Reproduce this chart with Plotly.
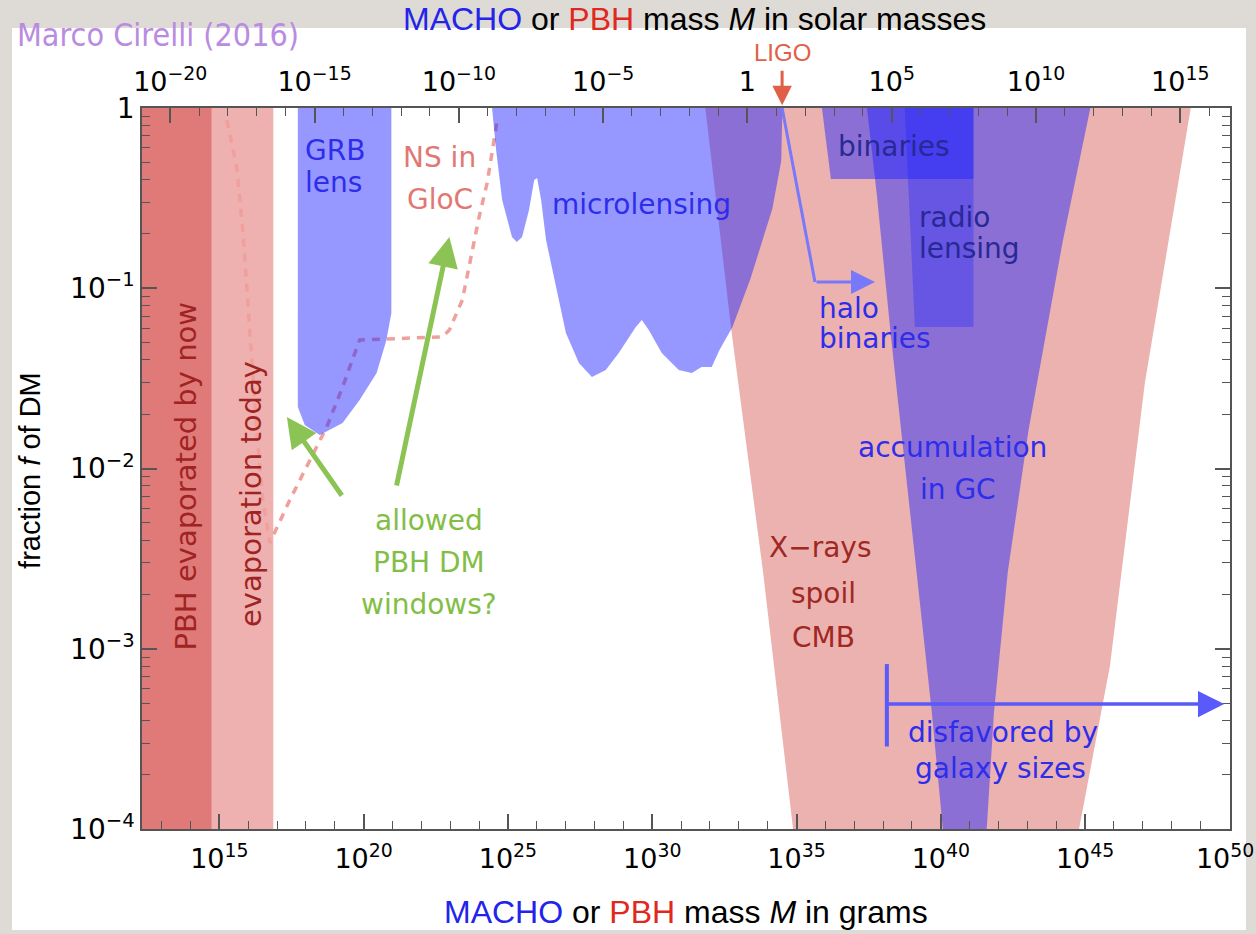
import plotly.graph_objects as go

# ---------------- data (log10 of mass in grams, log10 of f) ----------------
MSUN_LOG10_G = 33.2986
x_range_log = [12.32, 50.02]
y_range_log = [-4.0, 0.0]

bottom_tick_exp = [15, 20, 25, 30, 35, 40, 45, 50]
top_tick_exp = [-20, -15, -10, -5, 0, 5, 10, 15]
y_tick_exp = [-4, -3, -2, -1, 0]

evap_now_logM = [12.0, 14.74, 14.74, 12.0]
evap_now_logf = [-4.0, -4.0, 0.0, 0.0]

evap_today_logM = [14.74, 16.87, 16.87, 14.74]
evap_today_logf = [-4.0, -4.0, 0.0, 0.0]

grb_logM = [17.72, 17.72, 17.96, 18.48, 19.27, 19.86, 20.45, 20.79, 20.96, 20.96]
grb_logf = [0.0, -1.659, -1.759, -1.814, -1.748, -1.620, -1.470, -1.287, -1.137, 0.0]

ns_logM = [15.26, 15.60, 15.82, 15.99, 16.13, 16.30, 16.51, 16.75, 17.44, 18.13, 18.72,
           19.27, 19.86, 22.73, 22.97, 23.42, 23.76, 24.00, 24.28, 24.46, 24.63]
ns_logf = [-0.067, -0.326, -0.693, -1.065, -1.437, -1.803, -2.175, -2.413, -2.175, -1.953, -1.770,
           -1.548, -1.287, -1.270, -1.232, -1.065, -0.788, -0.605, -0.416, -0.233, -0.067]

micro_logM = [24.45, 24.59, 24.80, 25.14, 25.31, 25.49, 25.73, 25.91, 26.01, 26.15, 26.32,
              26.67, 27.01, 27.46, 27.91, 28.39, 28.84, 29.43, 29.64, 29.88, 30.33, 30.92,
              31.37, 31.71, 32.06, 32.33, 32.78, 33.40, 34.16, 34.47, 34.51]
micro_logf = [0.0, -0.233, -0.510, -0.716, -0.743, -0.716, -0.566, -0.399, -0.388, -0.510, -0.732,
              -0.993, -1.248, -1.415, -1.492, -1.454, -1.359, -1.215, -1.176, -1.232, -1.359, -1.454,
              -1.470, -1.437, -1.437, -1.343, -1.215, -0.949, -0.560, -0.294, 0.0]

xray_logM = [31.84, 32.74, 33.84, 34.88, 44.79, 45.86, 47.07, 48.66]
xray_logf = [0.0, -1.232, -2.574, -4.0, -4.0, -3.096, -1.526, 0.0]

accum_logM = [37.44, 37.78, 38.27, 38.99, 39.69, 40.07, 41.59, 41.84, 42.32, 43.04, 44.22, 45.18]
accum_logf = [0.0, -0.477, -1.265, -2.313, -3.356, -4.0, -4.0, -3.356, -2.574, -1.786, -0.743, 0.0]

binaries_logM = [35.88, 36.19, 41.13, 41.13]
binaries_logf = [0.0, -0.394, -0.394, 0.0]

radio_logM = [38.75, 39.10, 41.13, 41.13]
radio_logf = [0.0, -1.215, -1.215, 0.0]

halo_line_logM = [34.50, 35.64]
halo_line_logf = [0.0, -0.965]
halo_arrow_logM = [35.64, 37.72]   # tail, head
halo_arrow_logf = -0.965

galaxy_bar_logM = [38.13, 38.13]
galaxy_bar_logf = [-3.085, -3.542]
galaxy_arrow_logM = [38.13, 49.82]  # tail, head
galaxy_arrow_logf = -3.307

ligo_logM = 34.50
ligo_arrow_logf = [0.215, 0.015]   # tail, head
ligo_text_logf = 0.31

green_arrows = [  # (tail logM, tail logf, head logM, head logf)
    (19.28, -2.158, 17.34, -1.714),
    (21.13, -2.103, 22.97, -0.716),
]

# label text, logM, logf, color, xanchor
BLUE_TXT = "rgb(45,45,235)"
NAVY_TXT = "rgb(40,40,150)"
RED_TXT = "rgb(160,40,35)"
PINK_TXT = "rgb(225,120,115)"
GREEN_TXT = "rgb(130,190,70)"
labels = [
    ("GRB", 17.90, -0.233, BLUE_TXT, "left"),
    ("lens", 17.90, -0.411, BLUE_TXT, "left"),
    ("NS in", 22.62, -0.277, PINK_TXT, "center"),
    ("GloC", 22.64, -0.510, PINK_TXT, "center"),
    ("microlensing", 29.63, -0.538, BLUE_TXT, "center"),
    ("binaries", 38.37, -0.216, NAVY_TXT, "center"),
    ("radio", 39.17, -0.610, NAVY_TXT, "left"),
    ("lensing", 39.17, -0.782, NAVY_TXT, "left"),
    ("halo", 35.71, -1.110, BLUE_TXT, "left"),
    ("binaries", 35.71, -1.276, BLUE_TXT, "left"),
    ("accumulation", 40.41, -1.881, BLUE_TXT, "center"),
    ("in GC", 40.58, -2.114, BLUE_TXT, "center"),
    ("X\u2212rays", 35.82, -2.441, RED_TXT, "center"),
    ("spoil", 35.95, -2.691, RED_TXT, "center"),
    ("CMB", 35.95, -2.940, RED_TXT, "center"),
    ("disfavored by", 42.14, -3.462, BLUE_TXT, "center"),
    ("galaxy sizes", 42.07, -3.662, BLUE_TXT, "center"),
    ("allowed", 22.28, -2.286, GREEN_TXT, "center"),
    ("PBH DM", 22.28, -2.524, GREEN_TXT, "center"),
    ("windows?", 22.28, -2.757, GREEN_TXT, "center"),
]
rot_labels = [
    ("PBH evaporated by now", 13.86, -2.042, "rgb(160,35,35)"),
    ("evaporation today", 16.10, -2.141, "rgb(160,35,35)"),
]

# ---------------- figure ----------------
PLOT_H_PX = 721


def lin(a):
    return [10 ** v for v in a]


def px(lm):   # log-mass -> paper x
    return (lm - x_range_log[0]) / (x_range_log[1] - x_range_log[0])


def py(lf):   # log-f -> paper y
    return (lf - y_range_log[0]) / (y_range_log[1] - y_range_log[0])


def pow_label(e):
    if e == 0:
        return "1"
    return "10<sup>" + str(e).replace("-", "\u2212") + "</sup>"


BLUE_FILL = "rgba(32,36,255,0.47)"
fig = go.Figure()


def region(xs, ys, color):
    fig.add_trace(go.Scatter(x=lin(xs), y=lin(ys), fill="toself", fillcolor=color,
                             mode="lines", line=dict(width=0), hoverinfo="skip"))


region(evap_now_logM, evap_now_logf, "rgb(224,122,120)")
region(evap_today_logM, evap_today_logf, "rgb(238,177,175)")
region(xray_logM, xray_logf, "rgb(236,178,176)")

fig.add_trace(go.Scatter(x=lin(ns_logM), y=lin(ns_logf), mode="lines",
                         line=dict(color="rgb(240,160,155)", width=3.5, dash="8px,7px"),
                         hoverinfo="skip"))

region(grb_logM, grb_logf, BLUE_FILL)
region(micro_logM, micro_logf, BLUE_FILL)
region(accum_logM, accum_logf, BLUE_FILL)
region(binaries_logM, binaries_logf, BLUE_FILL)
region(radio_logM, radio_logf, "rgba(32,36,255,0.34)")

fig.add_trace(go.Scatter(x=lin(halo_line_logM), y=lin(halo_line_logf), mode="lines",
                         line=dict(color="rgb(120,120,250)", width=3), hoverinfo="skip"))
fig.add_trace(go.Scatter(x=lin(galaxy_bar_logM), y=lin(galaxy_bar_logf), mode="lines",
                         line=dict(color="rgb(90,90,250)", width=4), hoverinfo="skip"))

# invisible trace on overlay axes
fig.add_trace(go.Scatter(x=[1.0], y=[1e-2], xaxis="x2", yaxis="y2", mode="markers",
                         marker=dict(opacity=0), hoverinfo="skip"))


def arrow(xh, yh, xt, yt, color, width, size):
    fig.add_annotation(x=xh, y=yh, ax=xt, ay=yt, xref="x", yref="y", axref="x", ayref="y",
                       text="", showarrow=True, arrowhead=2, arrowsize=size,
                       arrowwidth=width, arrowcolor=color)


arrow(halo_arrow_logM[1], halo_arrow_logf, halo_arrow_logM[0], halo_arrow_logf,
      "rgb(120,120,250)", 3, 1.6)
arrow(galaxy_arrow_logM[1], galaxy_arrow_logf, galaxy_arrow_logM[0], galaxy_arrow_logf,
      "rgb(90,90,250)", 3.5, 1.5)
for (xt, yt, xh, yh) in green_arrows:
    arrow(xh, yh, xt, yt, "rgb(140,195,85)", 5, 1.2)

# LIGO marker above the frame (paper coordinates computed from the data scale)
ligo_len_px = (ligo_arrow_logf[0] - ligo_arrow_logf[1]) / (y_range_log[1] - y_range_log[0]) * PLOT_H_PX
fig.add_annotation(x=px(ligo_logM), y=py(ligo_arrow_logf[1]), ax=0, ay=-ligo_len_px,
                   xref="paper", yref="paper", axref="pixel", ayref="pixel",
                   text="", showarrow=True, arrowhead=2, arrowsize=1.3,
                   arrowwidth=3, arrowcolor="rgb(225,95,70)")
fig.add_annotation(x=px(ligo_logM), y=py(ligo_text_logf), xref="paper", yref="paper", text="LIGO",
                   showarrow=False, xanchor="center", yanchor="middle",
                   font=dict(family="Liberation Sans", size=24, color="rgb(225,95,70)"))

for (t, xm, yf, c, anc) in labels:
    fig.add_annotation(x=xm, y=yf, xref="x", yref="y", text=t, showarrow=False,
                       xanchor=anc, yanchor="middle",
                       font=dict(family="DejaVu Sans", size=28, color=c))
for (t, xm, yf, c) in rot_labels:
    fig.add_annotation(x=xm, y=yf, xref="x", yref="y", text=t, showarrow=False,
                       textangle=-90, xanchor="center", yanchor="middle",
                       font=dict(family="DejaVu Sans", size=29, color=c))

# titles
TITLE_FONT = dict(family="Liberation Sans", size=32, color="black")
fig.add_annotation(x=0.508, y=1.124, xref="paper", yref="paper", showarrow=False,
                   text='<span style="color:rgb(35,35,235)">MACHO</span> or '
                        '<span style="color:rgb(225,40,30)">PBH</span> mass <i>M</i> in solar masses',
                   font=TITLE_FONT, xanchor="center", yanchor="middle")
fig.add_annotation(x=0.5, y=-0.115, xref="paper", yref="paper", showarrow=False,
                   text='<span style="color:rgb(35,35,235)">MACHO</span> or '
                        '<span style="color:rgb(225,40,30)">PBH</span> mass <i>M</i> in grams',
                   font=TITLE_FONT, xanchor="center", yanchor="middle")
fig.add_annotation(x=-0.103, y=0.498, xref="paper", yref="paper", showarrow=False,
                   text="fraction <i>f</i> of DM", textangle=-90,
                   font=dict(family="Liberation Sans", size=29, color="black"),
                   xanchor="center", yanchor="middle")
fig.add_annotation(x=-0.1167, y=1.101, xref="paper", yref="paper", showarrow=False,
                   text="Marco Cirelli (2016)", xanchor="left", yanchor="middle",
                   font=dict(family="DejaVu Sans Condensed, Liberation Sans Narrow, DejaVu Sans",
                             size=32, color="rgb(185,140,225)"))

# white panel behind the chart
fig.add_shape(type="rect", xref="paper", yref="paper", x0=-0.1195, x1=1.0147, y0=-0.1401,
              y1=1.1109, fillcolor="white", line=dict(width=0), layer="below")

AX = "rgb(85,85,85)"
bottom_minor = [10.0 ** e for e in range(13, 50) if e % 5 != 0]
top_minor = [10.0 ** e for e in range(-20, 17) if e % 5 != 0]
y_minor = [k * 10.0 ** e for e in range(-4, 0) for k in range(2, 10)]

bottom_ticktext = [pow_label(e) for e in bottom_tick_exp]
bottom_ticktext[-1] = bottom_ticktext[-1] + "\u00a0"   # keep last label inside the page

common = dict(type="log", showgrid=False, zeroline=False, ticks="inside", ticklen=15,
              tickwidth=1.5, tickcolor=AX, showline=True, linecolor=AX, linewidth=1.5,
              ticklabeloverflow="allow")
minor_style = dict(ticks="inside", ticklen=8, tickwidth=1.2, tickcolor=AX,
                   tickmode="array", showgrid=False)

fig.update_layout(
    width=1256, height=934,
    margin=dict(l=142, r=26, t=108, b=105, autoexpand=False),
    paper_bgcolor="rgb(222,219,214)",
    plot_bgcolor="white",
    showlegend=False,
    xaxis=dict(range=x_range_log, tickmode="array",
               tickvals=[10.0 ** e for e in bottom_tick_exp],
               ticktext=bottom_ticktext,
               minor=dict(tickvals=bottom_minor, **minor_style),
               tickfont=dict(family="DejaVu Sans", size=27, color="black"),
               ticklabelstandoff=5, **common),
    xaxis2=dict(range=[x_range_log[0] - MSUN_LOG10_G, x_range_log[1] - MSUN_LOG10_G],
                overlaying="x", side="top", anchor="y", tickmode="array",
                tickvals=[10.0 ** e for e in top_tick_exp],
                ticktext=[pow_label(e) for e in top_tick_exp],
                minor=dict(tickvals=top_minor, **minor_style),
                tickfont=dict(family="DejaVu Sans", size=27, color="black"),
                ticklabelstandoff=4, **common),
    yaxis=dict(range=y_range_log, tickmode="array",
               tickvals=[10.0 ** e for e in y_tick_exp],
               ticktext=[pow_label(e) for e in y_tick_exp],
               minor=dict(tickvals=y_minor, **minor_style),
               tickfont=dict(family="DejaVu Sans", size=28, color="black"),
               **common),
    yaxis2=dict(range=y_range_log, overlaying="y", side="right", anchor="x",
                tickmode="array", tickvals=[10.0 ** e for e in y_tick_exp],
                showticklabels=False,
                minor=dict(tickvals=y_minor, **minor_style),
                **common),
)

fig.write_html("out.html", config={"displayModeBar": False},
               post_script="document.body.style.margin='0';document.body.style.overflow='hidden';")
